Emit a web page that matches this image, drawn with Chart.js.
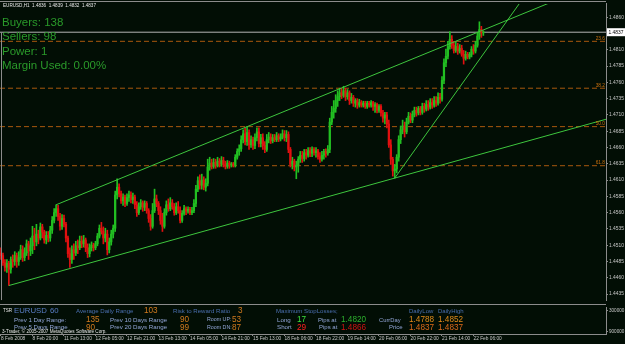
<!DOCTYPE html>
<html><head><meta charset="utf-8">
<script src="https://cdn.jsdelivr.net/npm/chart.js@4.4.1/dist/chart.umd.min.js"></script>
<style>
html,body{margin:0;padding:0;background:#020e05;overflow:hidden}
#wrap{position:relative;width:625px;height:344px}
#c1{position:absolute;left:0;top:0}
#c2{position:absolute;left:0;top:304px}
</style></head><body>
<div id="wrap"><canvas id="c1" width="625" height="304"></canvas><canvas id="c2" width="625" height="40"></canvas></div>
<script>
// ---------------- DATA (EURUSD H1) ----------------
const firstOpen = 1.4498;
const closes = [
1.4494,1.4483,1.4476,1.4482,1.4473,1.4488,1.4485,1.4494,1.4485,1.4491,
1.4503,1.4491,1.4498,1.4512,1.4501,1.4509,1.4524,1.4515,1.4527,1.4521,
1.4538,1.4530,1.4518,1.4525,1.4521,1.4533,1.4548,1.4560,1.4566,1.4554,
1.4539,1.4551,1.4542,1.4521,1.4497,1.4488,1.4503,1.4498,1.4509,1.4506,
1.4516,1.4512,1.4518,1.4506,1.4497,1.4506,1.4510,1.4506,1.4512,1.4524,
1.4536,1.4531,1.4521,1.4527,1.4503,1.4515,1.4527,1.4536,1.4587,1.4599,
1.4589,1.4578,1.4584,1.4574,1.4583,1.4587,1.4580,1.4584,1.4572,1.4560,
1.4569,1.4575,1.4568,1.4574,1.4563,1.4551,1.4539,1.4563,1.4581,1.4574,
1.4563,1.4548,1.4539,1.4560,1.4572,1.4566,1.4575,1.4569,1.4560,1.4569,
1.4563,1.4548,1.4559,1.4566,1.4562,1.4565,1.4560,1.4563,1.4574,1.4596,
1.4609,1.4602,1.4610,1.4599,1.4605,1.4630,1.4636,1.4631,1.4637,1.4633,
1.4639,1.4634,1.4640,1.4634,1.4631,1.4636,1.4633,1.4634,1.4633,1.4645,
1.4654,1.4658,1.4672,1.4681,1.4669,1.4683,1.4664,1.4672,1.4663,1.4675,
1.4684,1.4666,1.4675,1.4663,1.4657,1.4672,1.4676,1.4670,1.4675,1.4672,
1.4678,1.4673,1.4676,1.4681,1.4675,1.4680,1.4657,1.4634,1.4639,1.4630,
1.4633,1.4642,1.4648,1.4643,1.4652,1.4648,1.4655,1.4651,1.4657,1.4652,
1.4655,1.4646,1.4642,1.4648,1.4654,1.4651,1.4657,1.4699,1.4714,1.4720,
1.4732,1.4738,1.4744,1.4740,1.4747,1.4738,1.4744,1.4732,1.4737,1.4728,
1.4732,1.4725,1.4729,1.4725,1.4728,1.4723,1.4728,1.4725,1.4729,1.4723,
1.4726,1.4717,1.4723,1.4713,1.4705,1.4710,1.4696,1.4664,1.4642,1.4624,
1.4627,1.4645,1.4672,1.4687,1.4693,1.4684,1.4699,1.4708,1.4702,1.4711,
1.4717,1.4713,1.4720,1.4714,1.4723,1.4719,1.4726,1.4722,1.4729,1.4725,
1.4732,1.4728,1.4737,1.4734,1.4763,1.4790,1.4800,1.4815,1.4826,1.4817,
1.4809,1.4815,1.4808,1.4812,1.4803,1.4797,1.4803,1.4799,1.4803,1.4811,
1.4808,1.4817,1.4831,1.4841,1.4836,1.4837];
const highs = [
1.4506,1.4498,1.4488,1.4488,1.4485,1.4492,1.4495,1.4500,1.4498,1.4500,
1.4510,1.4509,1.4506,1.4518,1.4516,1.4521,1.4539,1.4536,1.4542,1.4533,
1.4544,1.4542,1.4533,1.4531,1.4531,1.4539,1.4554,1.4566,1.4572,1.4571,
1.4559,1.4557,1.4556,1.4545,1.4524,1.4506,1.4509,1.4512,1.4516,1.4518,
1.4524,1.4524,1.4525,1.4521,1.4512,1.4512,1.4515,1.4513,1.4516,1.4528,
1.4541,1.4545,1.4538,1.4536,1.4533,1.4521,1.4533,1.4541,1.4593,1.4612,
1.4604,1.4593,1.4589,1.4587,1.4589,1.4593,1.4592,1.4590,1.4587,1.4577,
1.4575,1.4580,1.4578,1.4578,1.4577,1.4566,1.4557,1.4574,1.4596,1.4587,
1.4577,1.4569,1.4559,1.4566,1.4578,1.4581,1.4583,1.4580,1.4574,1.4575,
1.4577,1.4569,1.4563,1.4571,1.4569,1.4569,1.4568,1.4568,1.4580,1.4602,
1.4615,1.4618,1.4619,1.4615,1.4612,1.4642,1.4645,1.4642,1.4643,1.4642,
1.4645,1.4643,1.4646,1.4645,1.4639,1.4640,1.4639,1.4637,1.4637,1.4649,
1.4658,1.4664,1.4678,1.4687,1.4690,1.4692,1.4687,1.4678,1.4676,1.4681,
1.4690,1.4690,1.4680,1.4681,1.4669,1.4680,1.4683,1.4681,1.4680,1.4680,
1.4683,1.4681,1.4681,1.4687,1.4686,1.4686,1.4684,1.4660,1.4645,1.4642,
1.4639,1.4646,1.4654,1.4654,1.4657,1.4657,1.4660,1.4660,1.4661,1.4660,
1.4660,1.4657,1.4652,1.4654,1.4657,1.4658,1.4663,1.4705,1.4723,1.4732,
1.4741,1.4747,1.4751,1.4751,1.4754,1.4751,1.4749,1.4747,1.4743,1.4740,
1.4735,1.4735,1.4734,1.4732,1.4731,1.4731,1.4731,1.4731,1.4732,1.4731,
1.4729,1.4728,1.4726,1.4726,1.4717,1.4714,1.4714,1.4702,1.4672,1.4645,
1.4634,1.4649,1.4678,1.4693,1.4702,1.4699,1.4705,1.4714,1.4713,1.4716,
1.4722,1.4722,1.4723,1.4723,1.4728,1.4728,1.4732,1.4732,1.4735,1.4735,
1.4738,1.4738,1.4744,1.4743,1.4769,1.4796,1.4811,1.4823,1.4838,1.4832,
1.4823,1.4822,1.4820,1.4818,1.4817,1.4809,1.4808,1.4806,1.4806,1.4815,
1.4818,1.4823,1.4837,1.4853,1.4846,1.4839];
const lows = [
1.4488,1.4479,1.4470,1.4468,1.4448,1.4467,1.4476,1.4479,1.4476,1.4479,
1.4488,1.4485,1.4486,1.4494,1.4488,1.4494,1.4497,1.4503,1.4509,1.4512,
1.4518,1.4521,1.4513,1.4512,1.4515,1.4516,1.4528,1.4544,1.4554,1.4548,
1.4533,1.4534,1.4538,1.4515,1.4491,1.4476,1.4482,1.4488,1.4494,1.4497,
1.4503,1.4506,1.4507,1.4500,1.4491,1.4492,1.4501,1.4501,1.4503,1.4509,
1.4521,1.4527,1.4512,1.4515,1.4495,1.4498,1.4510,1.4521,1.4531,1.4581,
1.4584,1.4574,1.4571,1.4569,1.4571,1.4577,1.4575,1.4574,1.4566,1.4554,
1.4557,1.4565,1.4562,1.4563,1.4559,1.4545,1.4533,1.4536,1.4560,1.4569,
1.4557,1.4542,1.4531,1.4536,1.4556,1.4562,1.4563,1.4565,1.4556,1.4557,
1.4559,1.4544,1.4545,1.4556,1.4557,1.4559,1.4557,1.4557,1.4560,1.4569,
1.4592,1.4596,1.4596,1.4595,1.4593,1.4601,1.4625,1.4627,1.4628,1.4628,
1.4630,1.4630,1.4631,1.4630,1.4627,1.4628,1.4628,1.4630,1.4630,1.4630,
1.4642,1.4648,1.4654,1.4667,1.4664,1.4663,1.4657,1.4660,1.4657,1.4658,
1.4670,1.4661,1.4661,1.4657,1.4652,1.4654,1.4667,1.4666,1.4667,1.4669,
1.4669,1.4669,1.4670,1.4673,1.4670,1.4669,1.4652,1.4630,1.4627,1.4624,
1.4612,1.4622,1.4637,1.4637,1.4639,1.4642,1.4645,1.4646,1.4646,1.4648,
1.4645,1.4642,1.4637,1.4639,1.4642,1.4645,1.4648,1.4652,1.4695,1.4705,
1.4714,1.4723,1.4732,1.4735,1.4737,1.4732,1.4734,1.4726,1.4728,1.4723,
1.4722,1.4720,1.4722,1.4722,1.4722,1.4720,1.4720,1.4722,1.4722,1.4717,
1.4714,1.4713,1.4714,1.4708,1.4699,1.4696,1.4690,1.4660,1.4634,1.4616,
1.4613,1.4621,1.4639,1.4666,1.4681,1.4676,1.4681,1.4696,1.4698,1.4698,
1.4707,1.4708,1.4710,1.4710,1.4711,1.4714,1.4716,1.4717,1.4719,1.4720,
1.4722,1.4723,1.4725,1.4728,1.4731,1.4758,1.4784,1.4796,1.4811,1.4812,
1.4805,1.4806,1.4803,1.4805,1.4800,1.4788,1.4794,1.4796,1.4796,1.4799,
1.4803,1.4805,1.4814,1.4826,1.4829,1.4832];

const priceTicks = [1.4860,1.4810,1.4785,1.4760,1.4735,1.4710,1.4685,1.4660,1.4635,1.4610,
  1.4585,1.4560,1.4535,1.4510,1.4485,1.4460,1.4435];
const timeLabels = ['8 Feb 2008','8 Feb 20:00','11 Feb 13:00','12 Feb 05:00','12 Feb 21:00','13 Feb 13:00',
  '14 Feb 05:00','14 Feb 21:00','15 Feb 13:00','18 Feb 06:00','18 Feb 22:00','19 Feb 14:00',
  '20 Feb 06:00','20 Feb 22:00','21 Feb 14:00','22 Feb 06:00'];
const timeLabelBars = [0,16,32,48,64,80,96,112,128,144,160,176,192,208,224,240];

const fibLevels = [1.4823, 1.4751, 1.4692, 1.4632];
const fibNames = ['23.6', '38.2', '50.0', '61.8'];
const bidPrice = 1.4837;
const trendUpper = [{bar:28, price:1.4572}, {bar:125, price:1.4692}];
const trendLower = [{bar:4, price:1.4448}, {bar:200, price:1.4613}];
const trendSteep = [{bar:200, price:1.4613}, {bar:230, price:1.4740}];

const ohlcTitle = ['1.4836','1.4839','1.4832','1.4837'];
const buyers = 138, sellers = 98, power = 1, marginUsed = '0.00%';
const subTicks = [300000, 900000];
const adr = 103, rrRatio = 3, prev1 = 135, prev5 = 90, prev10 = 90, prev20 = 99;
const roomUp = 53, roomDn = 87, slLong = 17, slShort = 29;
const pipsLong = '1.4820', pipsShort = '1.4866';
const dayLow = '1.4788', dayHigh = '1.4852', priceNow = '1.4837';

// ---------------- BUILD ----------------
const xMin = -0.5, xMax = 307.3, rayEnd = 330;
const opens = closes.map((c,i) => i === 0 ? firstOpen : closes[i-1]);
const BULL = '#22bf22', BEAR = '#e01010';
const candleColors = closes.map((c,i) => c >= opens[i] ? BULL : BEAR);
const bodies = closes.map((c,i) => ({x:i, y:[opens[i], c]}));
const wicks = closes.map((c,i) => ({x:i, y:[lows[i], highs[i]]}));
function ray(a) {
  const s = (a[1].price - a[0].price) / (a[1].bar - a[0].bar);
  return [{x:a[0].bar, y:a[0].price}, {x:rayEnd, y:a[0].price + s*(rayEnd - a[0].bar)}];
}
const GRID = '#8c8c8c', AXT = '#c8c8c8', FONT = '"Liberation Sans", Arial, sans-serif';
const TREND = '#3ec63e', FIB = '#a8580e';

function txt(ctx, s, x, y, color, size, align) {
  ctx.font = size + 'px ' + FONT;
  ctx.fillStyle = color; ctx.textAlign = align || 'left'; ctx.textBaseline = 'middle';
  ctx.fillText(s, x, y);
}

const datasets1 = [];
fibLevels.forEach(l => datasets1.push({type:'line', data:[{x:xMin,y:l},{x:xMax,y:l}], borderColor:FIB,
  borderWidth:1, borderDash:[5,3], pointRadius:0, order:20}));
datasets1.push({type:'line', data:[{x:xMin,y:bidPrice},{x:xMax,y:bidPrice}], borderColor:'#b4b4b4',
  borderWidth:1, pointRadius:0, order:19});
datasets1.push({type:'bar', data:wicks, backgroundColor:candleColors, barThickness:1, grouped:false,
  borderWidth:0, minBarLength:1, order:10});
datasets1.push({type:'bar', data:bodies, backgroundColor:candleColors, barThickness:1.6, grouped:false,
  borderWidth:0, minBarLength:1, order:9});
[trendUpper, trendLower, trendSteep].forEach(t => datasets1.push({type:'line', data:ray(t),
  borderColor:TREND, borderWidth:1, pointRadius:0, order:1}));

const overlay1 = {
  id:'overlay1',
  afterDraw(chart) {
    const ctx = chart.ctx, a = chart.chartArea, ys = chart.scales.y;
    ctx.save();
    ctx.strokeStyle = GRID; ctx.lineWidth = 1;
    ctx.beginPath(); ctx.moveTo(0, 1.5); ctx.lineTo(a.right, 1.5); ctx.stroke();
    const by = ys.getPixelForValue(bidPrice);
    ctx.beginPath(); ctx.moveTo(1.5, by); ctx.lineTo(1.5, a.bottom); ctx.stroke();
    txt(ctx, 'EURUSD,H1  ' + ohlcTitle.join('  '), 3, 5.5, '#e6e6e6', 4.6);
    const G = '#2a9a2a';
    txt(ctx, 'Buyers: ' + buyers, 2, 22.5, G, 11.5);
    txt(ctx, 'Sellers: ' + sellers, 2, 36.8, G, 11.5);
    txt(ctx, 'Power: ' + power, 2, 51.8, G, 11.5);
    txt(ctx, 'Margin Used: ' + marginUsed, 2, 66.2, G, 11.5);
    fibLevels.forEach((l,i) => txt(ctx, fibNames[i], a.right - 1, ys.getPixelForValue(l) - 3, '#c8700e', 4.8, 'right'));
    ctx.fillStyle = '#ffffff';
    ctx.fillRect(a.right + 1, by - 4, 18, 8);
    txt(ctx, bidPrice.toFixed(4), a.right + 2.5, by + 0.3, '#000000', 4.9);
    ctx.restore();
  }
};

new Chart(document.getElementById('c1'), {
  type:'bar',
  data:{datasets:datasets1},
  options:{
    responsive:false, animation:false, events:[],
    layout:{padding:{top:2, bottom:1, left:0, right:0}},
    plugins:{legend:{display:false}, tooltip:{enabled:false}},
    scales:{
      x:{type:'linear', min:xMin, max:xMax, offset:false, display:false},
      y:{position:'right', min:1.44257, max:1.48804,
         afterBuildTicks:s => { s.ticks = priceTicks.map(v => ({value:v})); },
         afterFit:s => { s.width = 19; },
         ticks:{color:AXT, font:{family:FONT, size:4.9}, padding:1, autoSkip:false,
                callback:v => Number(v).toFixed(4)},
         grid:{drawOnChartArea:false, drawTicks:true, tickLength:2, color:GRID},
         border:{display:true, color:GRID, width:1}}
    }
  },
  plugins:[overlay1]
});

// ---------------- SUB WINDOW ----------------
const L1 = '#4a6eae', SYM = '#5a7ec6', L2 = '#93a6d8', OR = '#d27a1e';
const panelRows = [7, 16, 23.3];
const panelItems = [
  ['EURUSD', 14, 0, SYM, 7.8], [String(60), 50, 0, SYM, 7.8],
  ['Average Daily Range', 76, 0, L1, 6.1], [String(adr), 144, 0, OR, 8.2],
  ['Risk to Reward Ratio', 173, 0, L1, 6.1], [String(rrRatio), 238, 0, OR, 8.2],
  ['Maximum StopLosses;', 276, 0, L1, 6.1],
  ['DailyLow', 409, 0, L1, 6.0], ['DailyHigh', 438, 0, L1, 6.0],
  ['Prev 1 Day Range:', 14, 1, L2, 6.2], [String(prev1), 86, 1, OR, 8.2],
  ['Prev 10 Days Range', 110, 1, L2, 6.2], [String(prev10), 180, 1, OR, 8.2],
  ['Room UP:', 207, 1, L2, 5.3], [String(roomUp), 232, 1, OR, 8.2],
  ['Long', 277, 1, L2, 6.2], [String(slLong), 297, 1, '#3ce03c', 8.2],
  ['Pips at', 318, 1, L2, 6.0], [pipsLong, 341, 1, '#2db02d', 8.2],
  ['CurrDay', 379, 1, L2, 5.8], [dayLow, 409, 1, '#e08a1a', 8.2], [dayHigh, 438, 1, '#e08a1a', 8.2],
  ['Prev 5 Days Range', 14, 2, L2, 6.2], [String(prev5), 86, 2, OR, 8.2],
  ['Prev 20 Days Range', 110, 2, L2, 6.2], [String(prev20), 180, 2, OR, 8.2],
  ['Room DN:', 207, 2, L2, 5.3], [String(roomDn), 232, 2, OR, 8.2],
  ['Short', 277, 2, L2, 6.2], [String(slShort), 297, 2, '#ff2020', 8.2],
  ['Pips at', 319, 2, L2, 6.0], [pipsShort, 341, 2, '#d01414', 8.2],
  ['Price', 389, 2, L2, 6.0], [priceNow, 409, 2, '#dc6a1a', 8.2], [priceNow, 438, 2, '#dc6a1a', 8.2]
];
const overlay2 = {
  id:'overlay2',
  afterDraw(chart) {
    const ctx = chart.ctx, a = chart.chartArea;
    ctx.save();
    ctx.strokeStyle = GRID; ctx.lineWidth = 1;
    ctx.beginPath(); ctx.moveTo(0, 0.5); ctx.lineTo(a.right, 0.5); ctx.stroke();
    txt(ctx, 'TSR', 3, 7, '#e6e6e6', 4.6);
    panelItems.forEach(p => txt(ctx, p[0], p[1], panelRows[p[2]], p[3], p[4]));
    txt(ctx, '3-Trader, \u00a9 2005-2007 MetaQuotes Software Corp.', 2, 28, '#e6e6e6', 4.6);
    ctx.restore();
  }
};
new Chart(document.getElementById('c2'), {
  type:'line',
  data:{datasets:[{data:[], pointRadius:0}]},
  options:{
    responsive:false, animation:false, events:[],
    layout:{padding:{top:0, bottom:0, left:0, right:0}},
    plugins:{legend:{display:false}, tooltip:{enabled:false}},
    scales:{
      x:{type:'linear', min:xMin, max:xMax, offset:false, position:'bottom',
         afterBuildTicks:s => { s.ticks = timeLabelBars.map(v => ({value:v})); },
         afterFit:s => { s.height = 10; },
         ticks:{color:AXT, font:{family:FONT, size:4.8}, padding:0, autoSkip:false, maxRotation:0, minRotation:0,
                align:'start', callback:(v,i) => timeLabels[i]},
         grid:{drawOnChartArea:false, drawTicks:true, tickLength:2, color:GRID},
         border:{display:true, color:GRID, width:1}},
      y:{position:'right', reverse:true, min:225000, max:975000,
         afterBuildTicks:s => { s.ticks = subTicks.map(v => ({value:v})); },
         afterFit:s => { s.width = 19; },
         ticks:{color:AXT, font:{family:FONT, size:4.6}, padding:1, autoSkip:false, callback:v => String(v)},
         grid:{drawOnChartArea:false, drawTicks:true, tickLength:2, color:GRID},
         border:{display:true, color:GRID, width:1}}
    }
  },
  plugins:[overlay2]
});
</script>
</body></html>
